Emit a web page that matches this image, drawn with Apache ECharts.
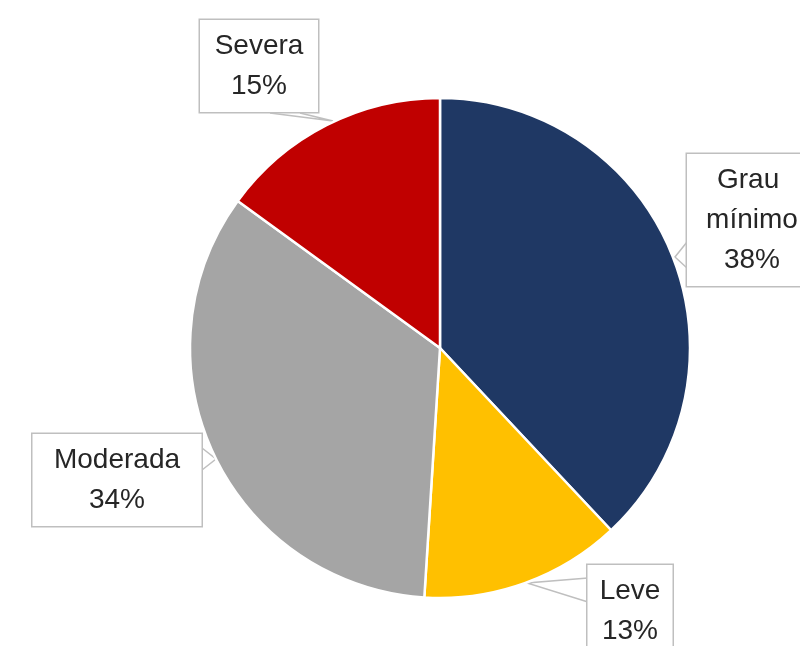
<!DOCTYPE html>
<html>
<head>
<meta charset="utf-8">
<script src="https://cdn.jsdelivr.net/npm/echarts@6/dist/echarts.min.js"></script>
<style>html,body{margin:0;padding:0;background:#fff}#c{width:800px;height:646px}</style>
</head>
<body>
<div id="c"></div>
<script>
const categories = ['Grau mínimo', 'Leve', 'Moderada', 'Severa'];
const values = [38, 13, 34, 15];
const colors = ['#1F3864', '#FFC000', '#A5A5A5', '#C00000'];

// label box layout (pixel positions of callouts)
const boxWidths = [114, 69, 153, 102];
const boxCenters = [[752, 220], [630, 611], [117, 480], [259, 66]];
const pointers = [
  [[687, 242], [675, 257], [687, 268]],
  [[588, 578], [527, 583], [588, 602]],
  [[202, 448], [216, 459], [202, 470]],
  [[270, 113], [333, 121], [300, 113]]
];

const chart = echarts.init(document.getElementById('c'));
chart.setOption({
  animation: false,
  backgroundColor: '#fff',
  series: [{
    type: 'pie',
    center: [440, 348],
    radius: 250,
    startAngle: 90,
    clockwise: true,
    itemStyle: { borderColor: '#fff', borderWidth: 2.5 },
    label: {
      show: true,
      formatter: '{b}\n{d}%',
      fontFamily: 'Liberation Sans',
      fontSize: 28,
      lineHeight: 40,
      color: '#262626',
      backgroundColor: '#fff',
      borderColor: '#BFBFBF',
      borderWidth: 1.5,
      padding: [10, 8, 2, 8],
      overflow: 'break'
    },
    labelLine: { show: true, lineStyle: { color: '#BFBFBF', width: 1.5 } },
    labelLayout: function (p) {
      const i = p.dataIndex;
      return {
        x: boxCenters[i][0],
        y: boxCenters[i][1],
        align: 'center',
        verticalAlign: 'middle',
        labelLinePoints: pointers[i]
      };
    },
    data: categories.map((n, i) => ({
      name: n,
      value: values[i],
      itemStyle: { color: colors[i] },
      label: { width: boxWidths[i], align: 'center' }
    }))
  }]
});
</script>
</body>
</html>
